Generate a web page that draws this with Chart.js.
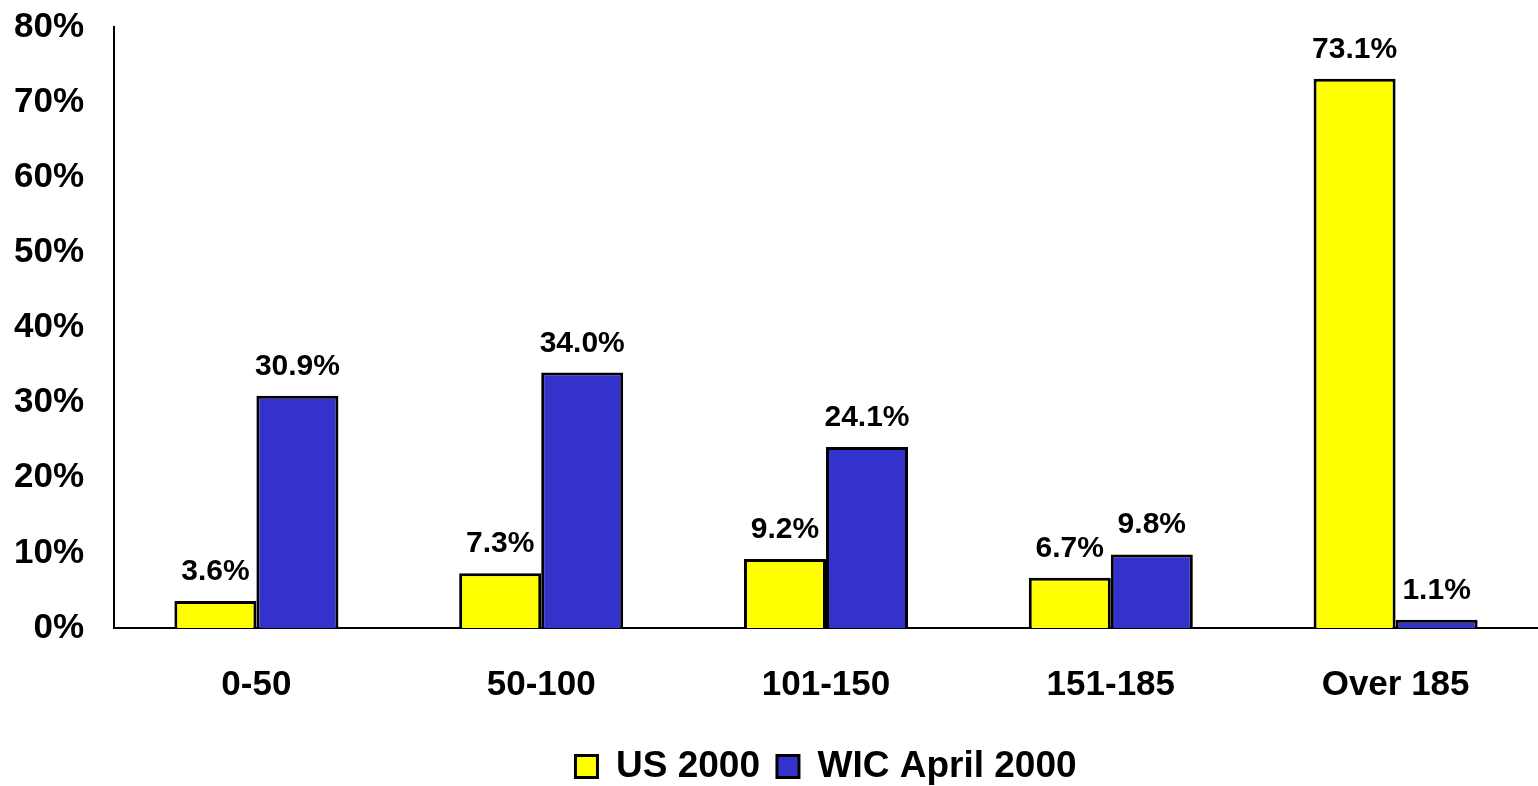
<!DOCTYPE html>
<html lang="en">
<head>
  <meta charset="UTF-8">
  <title>US 2000 vs WIC April 2000</title>
  <script src="https://cdn.jsdelivr.net/npm/chart.js"></script>
  <style>
    body { margin: 0; background: #fff; }
    .chart-box { position: relative; width: 1538px; height: 786px; }
  </style>
</head>
<body>
  <div class="chart-box">
    <canvas id="povertyChart"></canvas>
  </div>

  <script>
    // data
    var categories = ['0-50', '50-100', '101-150', '151-185', 'Over 185'];
    var us2000 = [3.6, 7.3, 9.2, 6.7, 73.1];
    var wicApril2000 = [30.9, 34.0, 24.1, 9.8, 1.1];

    var fontFamily = "'Liberation Sans', Arial, sans-serif";

    // draws the value above each bar
    var valueLabels = {
      id: 'valueLabels',
      afterDatasetsDraw: function(chart) {
        var ctx = chart.ctx;
        ctx.save();
        ctx.font = 'bold 30px ' + fontFamily;
        ctx.fillStyle = '#000';
        ctx.textAlign = 'center';
        ctx.textBaseline = 'alphabetic';
        chart.data.datasets.forEach(function(ds, i) {
          chart.getDatasetMeta(i).data.forEach(function(bar, j) {
            ctx.fillText(ds.data[j].toFixed(1) + '%', bar.x, bar.y - 21);
          });
        });
        ctx.restore();
      }
    };

    var ctx = document.getElementById('povertyChart').getContext('2d');
    var chart = new Chart(ctx, {
      type: 'bar',
      data: {
        labels: categories,
        datasets: [{
          label: 'US 2000',
          data: us2000,
          backgroundColor: '#FFFF00',
          borderColor: '#000',
          borderWidth: 3
        }, {
          label: 'WIC April 2000',
          data: wicApril2000,
          backgroundColor: '#3333CC',
          borderColor: '#000',
          borderWidth: 3
        }]
      },
      options: {
        responsive: true,
        maintainAspectRatio: false,
        animation: false,
        layout: { padding: { top: 27, right: 0, bottom: -9, left: 0 } },
        datasets: {
          bar: { categoryPercentage: 0.576, barPercentage: 1.0 }
        },
        scales: {
          x: {
            grid: { display: false },
            border: { display: true, color: '#000', width: 2 },
            afterFit: function(scale) { scale.height = 103; },
            ticks: {
              color: '#000',
              padding: 28,
              font: { family: fontFamily, size: 35, weight: 'bold' }
            }
          },
          y: {
            min: 0,
            max: 80,
            grid: { display: false },
            border: { display: true, color: '#000', width: 2 },
            afterFit: function(scale) {
              scale.width = 114;
              scale.paddingTop = 0;
              scale.paddingBottom = 0;
            },
            ticks: {
              stepSize: 10,
              color: '#000',
              padding: 22,
              font: { family: fontFamily, size: 35, weight: 'bold' },
              callback: function(v) { return v + '%'; }
            }
          }
        },
        plugins: {
          legend: {
            position: 'bottom',
            fullSize: false,
            labels: {
              color: '#000',
              boxWidth: 22,
              boxHeight: 22,
              padding: 17,
              font: { family: fontFamily, size: 37, weight: 'bold' }
            }
          },
          tooltip: { enabled: false }
        }
      },
      plugins: [valueLabels]
    });
  </script>
</body>
</html>
